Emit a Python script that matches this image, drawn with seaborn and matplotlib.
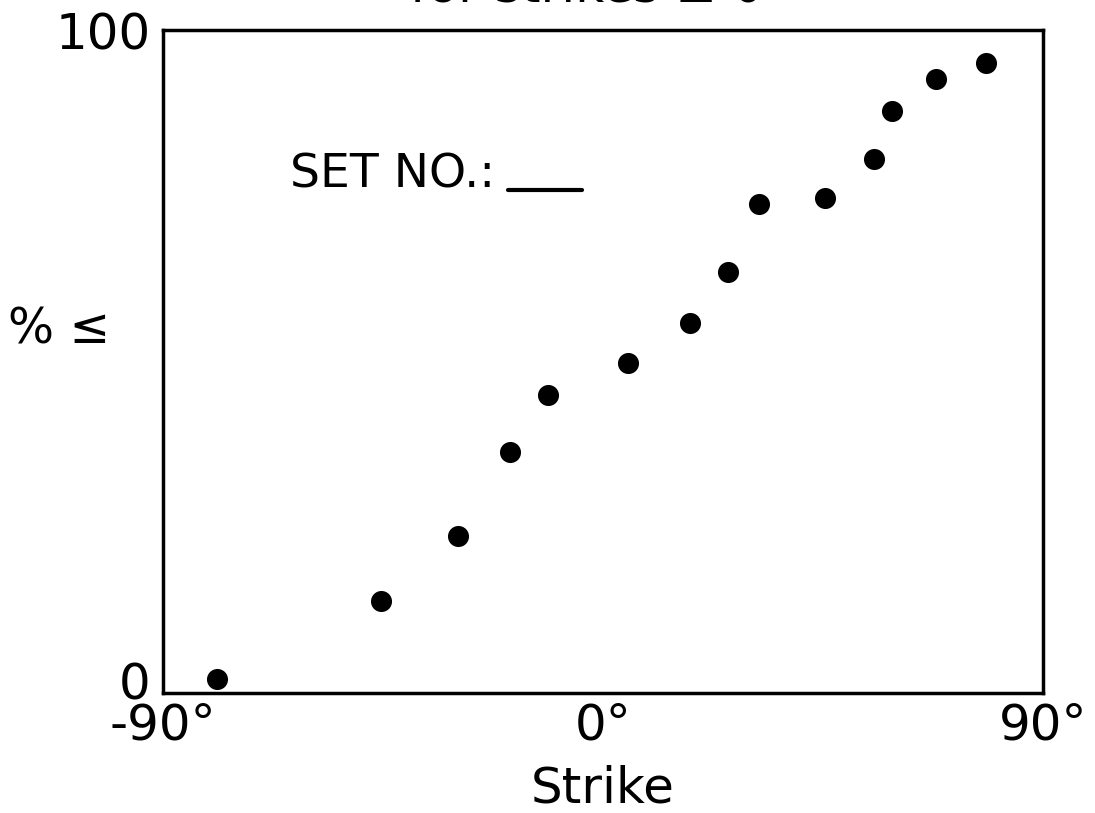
import numpy as np
import pandas as pd
import matplotlib
matplotlib.use('Agg')
import matplotlib.pyplot as plt
import matplotlib.transforms as mtransforms
import seaborn as sns

# values
strike = [-79, -45.4, -29.7, -19.0, -11.3, 5.1, 17.8, 25.6, 31.9, 45.4, 55.4, 59.1, 68.1, 78.3]
pct_le = [2.1, 13.9, 23.7, 36.3, 44.9, 49.8, 55.8, 63.5, 73.8, 74.7, 80.5, 87.8, 92.6, 95.0]
x_ticks = [-90, 0, 90]
x_ticklabels = ['-90°', '0°', '90°']
y_ticks = [0, 100]
y_ticklabels = ['0', '100']

df = pd.DataFrame({'strike': strike, 'pct': pct_le})

sns.set_theme(style='white')
plt.rcParams['font.family'] = ['DejaVu Sans']
plt.rcParams['text.color'] = 'black'
plt.rcParams['axes.labelcolor'] = 'black'
plt.rcParams['xtick.color'] = 'black'
plt.rcParams['ytick.color'] = 'black'

fig = plt.figure(figsize=(10.95, 8.13), dpi=100)
ax = fig.add_axes([163 / 1095, 1 - 693 / 813, 880 / 1095, 663 / 813])

sns.scatterplot(x='strike', y='pct', data=df, ax=ax, color='black', s=230,
                edgecolor='black', linewidth=0, legend=False)

ax.set_xlim(-90, 90)
ax.set_ylim(0, 100)
ax.set_xticks(x_ticks)
ax.set_xticklabels(x_ticklabels, fontsize=36)
ax.set_yticks(y_ticks)
ax.set_yticklabels(y_ticklabels, fontsize=36)
ax.tick_params(axis='x', length=0, pad=6)
ax.tick_params(axis='y', length=0, pad=9)
# the "0" on the y axis sits a little above the baseline in the original
lbl0 = ax.get_yticklabels()[0]
lbl0.set_transform(lbl0.get_transform() +
                   mtransforms.ScaledTranslation(0, 9 / 72, fig.dpi_scale_trans))
for s in ax.spines.values():
    s.set_linewidth(2.5)
    s.set_color('black')

ax.set_xlabel('Strike', fontsize=36)
ax.xaxis.set_label_coords(0.5, -0.108)
ax.set_ylabel('')
fig.text(8 / 1095, 1 - 329 / 813, '% ≤', fontsize=35, ha='left', va='center')

ax.text(0.144, 0.763, 'SET NO.:', transform=ax.transAxes, fontsize=34,
        ha='left', va='baseline')
ax.plot([0.392, 0.476], [0.758, 0.758], transform=ax.transAxes, color='black', lw=3)

# title is cut off at the top edge of the scan
fig.text(587 / 1095, 1 - 1 / 813, 'for strikes ≤ θ', fontsize=36,
         ha='center', va='baseline')

fig.savefig('out.png', dpi=100)
